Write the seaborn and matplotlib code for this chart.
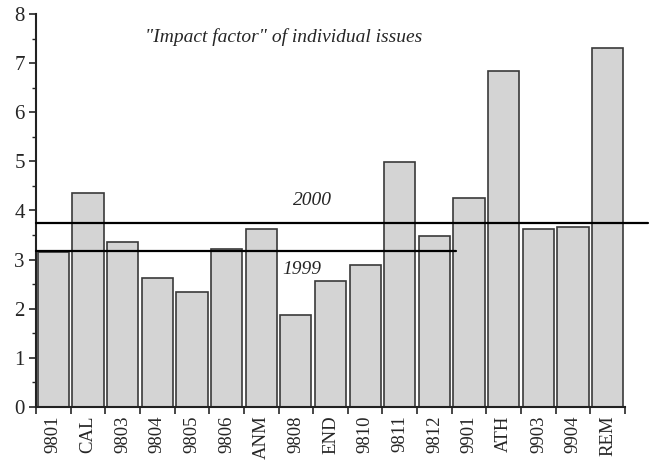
import matplotlib
matplotlib.use("Agg")
import matplotlib.pyplot as plt
import seaborn as sns
import numpy as np
import pandas as pd

sns.set_style("ticks")
plt.rcParams['font.family'] = ['Liberation Serif', 'DejaVu Serif']

# "impact factor" of each issue
issues = ['9801', 'CAL', '9803', '9804', '9805', '9806', 'ANM', '9808', 'END',
          '9810', '9811', '9812', '9901', 'ATH', '9903', '9904', 'REM']
impact = [3.16, 4.36, 3.36, 2.63, 2.35, 3.21, 3.63, 1.87, 2.57,
          2.90, 4.99, 3.48, 4.26, 6.84, 3.63, 3.66, 7.31]

# yearly averages
years = ['1999', '2000']
year_avg = [3.17, 3.75]

df = pd.DataFrame({'issue': issues, 'impact': impact})

fig = plt.figure(figsize=(6.51, 4.65), dpi=100)
ax = fig.add_axes([36 / 651, 1 - 407 / 465, (625 - 36) / 651, (407 - 14) / 465])

sns.barplot(data=df, x='issue', y='impact', color='#d4d4d4', saturation=1,
            edgecolor='#3a3a3a', linewidth=1.2, width=0.9, ax=ax)

n = len(issues)
ax.set_xlim(-0.5, n - 0.5)
ax.set_ylim(0, 8)

# yearly lines
ax.plot([-0.5, 11.62], [year_avg[0]] * 2, color='black', lw=1.6, clip_on=False, zorder=5)
ax.plot([-0.5, 17.16], [year_avg[1]] * 2, color='black', lw=1.6, clip_on=False, zorder=5)
ax.text(7.16, year_avg[0] - 0.37, years[0], style='italic', fontsize=14,
        ha='center', va='center')
ax.text(7.47, year_avg[1] + 0.45, years[1], style='italic', fontsize=14,
        ha='center', va='center')

ax.text(2.65, 7.54, '"Impact factor" of individual issues', style='italic',
        fontsize=14, ha='left', va='center')

# axes styling
sns.despine(ax=ax)
for s in ['left', 'bottom']:
    ax.spines[s].set_linewidth(1.5)
    ax.spines[s].set_color('#222222')

ax.set_yticks(np.arange(0, 9, 1))
ax.set_yticks(np.arange(0.5, 8, 1), minor=True)
ax.tick_params(axis='y', which='major', length=5, width=1.2, labelsize=15, pad=3)
ax.tick_params(axis='y', which='minor', length=3, width=1)

ax.set_xticks(np.arange(n))
ax.set_xticklabels(issues, rotation=90, fontsize=13.5)
ax.set_xticks(np.arange(-0.5, n, 1), minor=True)
ax.tick_params(axis='x', which='major', length=0, pad=6)
ax.tick_params(axis='x', which='minor', length=5, width=1.2)

ax.set_xlabel('')
ax.set_ylabel('')

fig.savefig('out.png', dpi=100)
